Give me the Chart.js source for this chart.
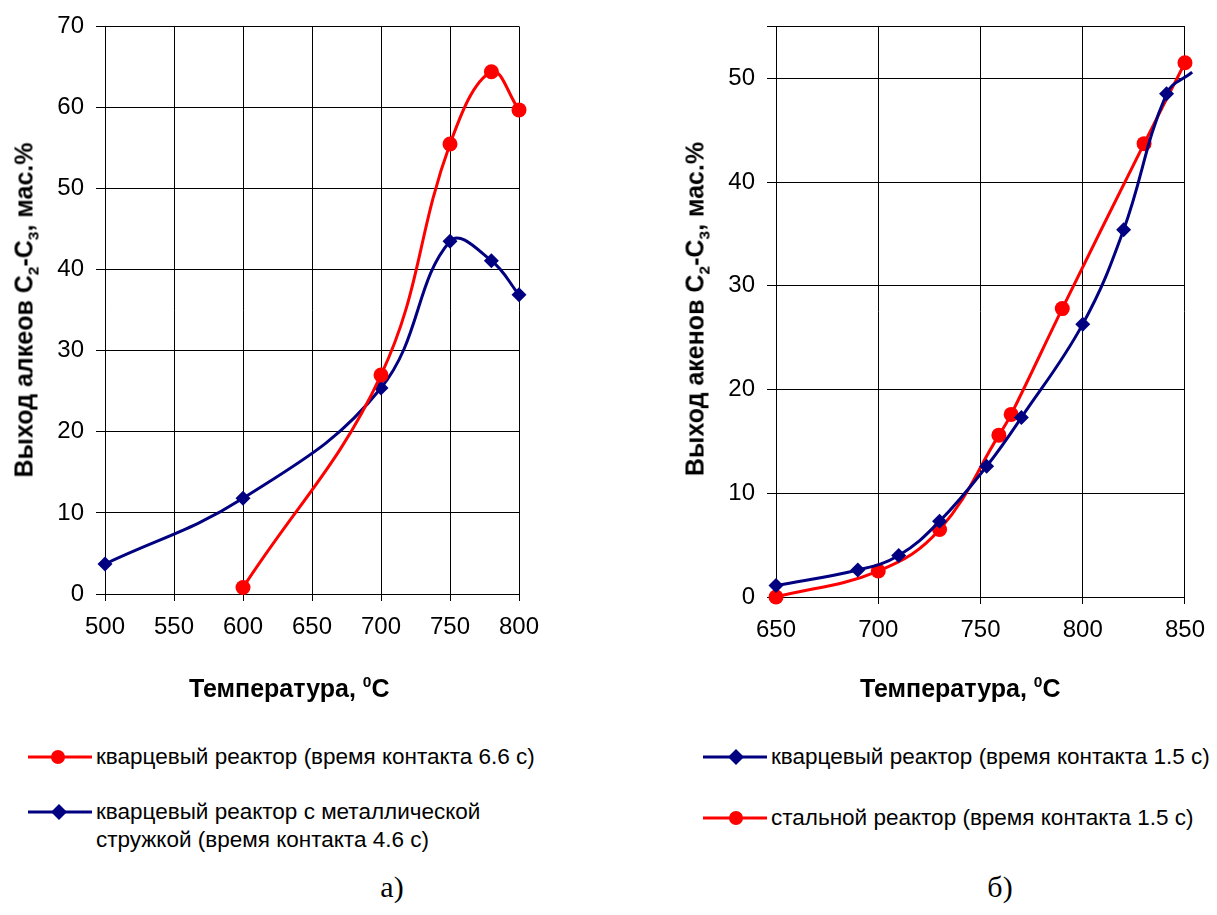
<!DOCTYPE html>
<html>
<head>
<meta charset="utf-8">
<script src="https://cdn.jsdelivr.net/npm/chart.js@4"></script>
<style>
  body { margin: 0; background: #fff; width: 1217px; height: 915px; position: relative; overflow: hidden; font-family: "Liberation Sans", Arial, sans-serif; }
  .wrap { position: absolute; top: 0; }
  .ttl { position: absolute; font-weight: bold; font-size: 25px; color: #000; white-space: nowrap; }
  .ttl sub, .ttl sup { font-size: 62%; line-height: 0; }
  .ytl { transform: translate(-50%, -50%) rotate(-90deg); }
  .xtl { transform: translate(0, -50%); }
  .leg { position: absolute; font-size: 22.5px; color: #000; line-height: 28px; white-space: nowrap; }
  .leg svg { position: absolute; }
  .cap { position: absolute; font-family: "Liberation Serif", "Times New Roman", serif; font-size: 30px; transform: translate(-50%, -50%); }
</style>
</head>
<body>

<div class="wrap" style="left:0;width:560px;height:720px"><canvas id="chartA" width="560" height="720"></canvas></div>
<div class="wrap" style="left:660px;width:557px;height:720px"><canvas id="chartB" width="557" height="720"></canvas></div>

<!-- axis titles -->
<div class="ttl ytl" style="left:24px;top:310px">Выход алкеов C<sub>2</sub>-C<sub>3</sub>, мас.%</div>
<div class="ttl xtl" style="left:189px;top:688px">Температура, <sup>0</sup>C</div>
<div class="ttl ytl" style="left:695px;top:309px">Выход акенов C<sub>2</sub>-C<sub>3</sub>, мас.%</div>
<div class="ttl xtl" style="left:860px;top:688px">Температура, <sup>0</sup>C</div>

<!-- legends -->
<div class="leg" style="left:96px;top:743px">
  <svg style="left:-70px;top:0" width="68" height="28"><line x1="2" y1="14" x2="66" y2="14" stroke="#ff0000" stroke-width="3"/><circle cx="32" cy="14" r="7" fill="#ff0000"/></svg>
  кварцевый реактор (время контакта 6.6 с)
</div>
<div class="leg" style="left:96px;top:798px">
  <svg style="left:-70px;top:0" width="68" height="28"><line x1="2" y1="14" x2="66" y2="14" stroke="#000080" stroke-width="3"/><polygon points="33,6 41,14 33,22 25,14" fill="#000080"/></svg>
  кварцевый реактор с металлической<br>стружкой (время контакта 4.6 с)
</div>
<div class="leg" style="left:771px;top:743px">
  <svg style="left:-70px;top:0" width="68" height="28"><line x1="2" y1="14" x2="66" y2="14" stroke="#000080" stroke-width="3"/><polygon points="35,6 43,14 35,22 27,14" fill="#000080"/></svg>
  кварцевый реактор (время контакта 1.5 с)
</div>
<div class="leg" style="left:771px;top:804px">
  <svg style="left:-70px;top:0" width="68" height="28"><line x1="2" y1="14" x2="66" y2="14" stroke="#ff0000" stroke-width="3"/><circle cx="35" cy="14" r="7" fill="#ff0000"/></svg>
  стальной реактор (время контакта 1.5 с)
</div>

<div class="cap" style="left:392px;top:887px">а)</div>
<div class="cap" style="left:1000px;top:887px">б)</div>

<script>
// chart a) data
const tempA_red = [600, 700, 750, 780, 800];
const yieldA_red = [0.8, 27.0, 55.5, 64.4, 59.7];
const tempA_blue = [500, 600, 700, 750, 780, 800];
const yieldA_blue = [3.7, 11.8, 25.4, 43.5, 41.1, 36.9];

// chart б) data
const tempB_blue = [650, 690, 710, 730, 753, 770, 800, 820, 841, 853.5];
const yieldB_blue = [1.1, 2.6, 4.0, 7.3, 12.6, 17.3, 26.3, 35.4, 48.5, 50.6];
const tempB_red = [650, 700, 730, 759, 765, 790, 830, 850];
const yieldB_red = [0, 2.5, 6.5, 15.6, 17.6, 27.8, 43.7, 51.5];

// axis ranges / ticks
const ticksA_x = [500, 800, 50];
const ticksA_y = [0, 70, 10];
const ticksB_x = [650, 850, 50];
const ticksB_y = [0, 55, 10];

const RED = '#ff0000';
const BLUE = '#000080';
const tickFont = { family: "'Liberation Sans', Arial, sans-serif", size: 24 };

function pts(xs, ys) {
  return xs.map((x, i) => ({ x: x, y: ys[i] }));
}

function redSet(data) {
  return {
    data: data, borderColor: RED, backgroundColor: RED, borderWidth: 3,
    pointStyle: 'circle', pointRadius: 7.5, pointHoverRadius: 7.5, pointBorderWidth: 0,
    tension: 0.4, clip: false
  };
}

function blueSet(data, radii) {
  return {
    data: data, borderColor: BLUE, backgroundColor: BLUE, borderWidth: 3,
    pointStyle: 'rectRot', pointRadius: radii || 7.5, pointHoverRadius: 7.5, pointBorderWidth: 0,
    tension: 0.4, clip: false
  };
}

function makeChart(id, datasets, xr, yr, pad, yWidth, xHeight) {
  return new Chart(document.getElementById(id), {
    type: 'line',
    data: { datasets: datasets },
    options: {
      responsive: false,
      animation: false,
      events: [],
      layout: { padding: pad },
      plugins: { legend: { display: false }, tooltip: { enabled: false } },
      scales: {
        x: {
          type: 'linear', min: xr[0], max: xr[1],
          ticks: { stepSize: xr[2], color: '#000', font: tickFont, padding: 12, maxRotation: 0 },
          grid: { color: '#000', lineWidth: 1, tickLength: 7 },
          border: { color: '#000', width: 1 },
          afterFit: s => { s.height = xHeight; }
        },
        y: {
          min: yr[0], max: yr[1],
          // top edge (55 on б) gets a gridline but no label
          ticks: { stepSize: yr[2], color: '#000', font: tickFont, padding: 12,
                   callback: v => (v % yr[2] === 0 ? v : '') },
          grid: { color: '#000', lineWidth: 1, tickLength: 9 },
          border: { color: '#000', width: 1 },
          afterFit: s => { s.width = yWidth; }
        }
      }
    }
  });
}

makeChart('chartA',
  [redSet(pts(tempA_red, yieldA_red)), blueSet(pts(tempA_blue, yieldA_blue))],
  ticksA_x, ticksA_y,
  { top: 25, right: 41, left: 0, bottom: 0 }, 105, 126);

// last blue point of б) has no marker (line runs off the edge)
const radiiB = tempB_blue.map((t, i) => i === tempB_blue.length - 1 ? 0 : 7.5);
makeChart('chartB',
  [blueSet(pts(tempB_blue, yieldB_blue), radiiB), redSet(pts(tempB_red, yieldB_red))],
  ticksB_x, ticksB_y,
  { top: 23, right: 26, left: 0, bottom: 0 }, 116, 123);
</script>
</body>
</html>
